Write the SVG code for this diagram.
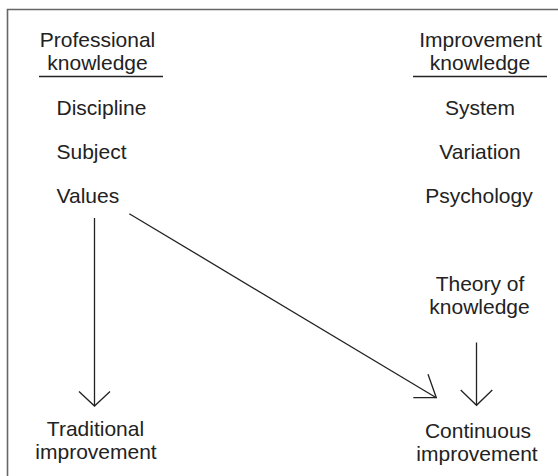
<svg xmlns="http://www.w3.org/2000/svg" width="558" height="476" viewBox="0 0 558 476">
<style>
text{font-family:"Liberation Sans",Arial,sans-serif;font-size:21px;fill:#222}
.c{text-anchor:middle}
.ln{stroke:#222;stroke-width:1.3;fill:none}
.frame{stroke:#666;stroke-width:1.6;fill:none}
</style>
<rect width="558" height="476" fill="#fff"/>
<path class="frame" d="M7.5,476 V9.5 H558"/>
<g id="professional-knowledge">
<text class="c" x="97.5" y="47">Professional</text>
<text class="c" x="97.5" y="70">knowledge</text>
<line class="ln" x1="39" y1="76.5" x2="163" y2="76.5"/>
</g>
<g id="discipline"><text x="56.5" y="115">Discipline</text></g>
<g id="subject"><text x="56.5" y="159">Subject</text></g>
<g id="values"><text x="56.5" y="203">Values</text></g>
<g id="improvement-knowledge">
<text class="c" x="480.5" y="47">Improvement</text>
<text class="c" x="480" y="70">knowledge</text>
<line class="ln" x1="413" y1="76.5" x2="547" y2="76.5"/>
</g>
<g id="system"><text class="c" x="480" y="115">System</text></g>
<g id="variation"><text class="c" x="480" y="159">Variation</text></g>
<g id="psychology"><text class="c" x="479" y="203">Psychology</text></g>
<g id="theory-of-knowledge">
<text class="c" x="480" y="290.5">Theory of</text>
<text class="c" x="479.5" y="313.5">knowledge</text>
</g>
<g id="traditional-improvement">
<text class="c" x="95.5" y="436">Traditional</text>
<text class="c" x="96" y="459">improvement</text>
</g>
<g id="continuous-improvement">
<text class="c" x="478" y="437.5">Continuous</text>
<text class="c" x="477" y="460.5">improvement</text>
</g>
<g id="connectors">
<line class="ln" x1="94.5" y1="218" x2="94.5" y2="406"/>
<polyline class="ln" points="79,391.5 94.5,406 110,391.5"/>
<line class="ln" x1="129.3" y1="213.7" x2="436.3" y2="397.7"/>
<polyline class="ln" points="428,374.3 436.3,397.7 413.3,397.7"/>
<line class="ln" x1="476.5" y1="342.5" x2="476.5" y2="405.3"/>
<polyline class="ln" points="460.7,390 476.5,405.3 492.3,390"/>
</g>
</svg>
